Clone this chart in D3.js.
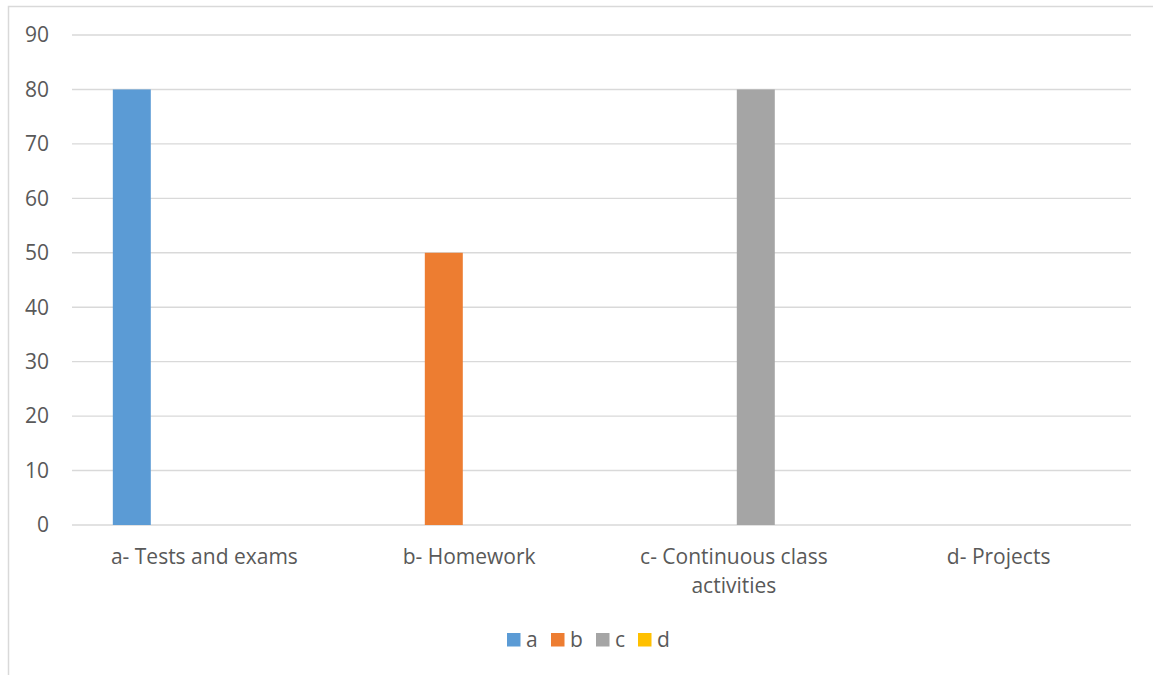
<!DOCTYPE html>
<html>
<head>
<meta charset="utf-8">
<script src="https://cdn.jsdelivr.net/npm/d3@7"></script>
<style>
  html, body { margin: 0; padding: 0; background: #fff; }
  svg { display: block; }
  text { font-family: "Open Sans", "Liberation Sans", sans-serif; fill: #595959; }
</style>
</head>
<body>
<svg id="chart" width="1153" height="675"></svg>
<script>
// Categories along the x axis
const categories = [
  "a- Tests and exams",
  "b- Homework",
  "c- Continuous class activities",
  "d- Projects"
];
// Series names (legend)
const seriesNames = ["a", "b", "c", "d"];
// Values per series, one per category (null = no entry)
const seriesA = [80, null, null, null];
const seriesB = [null, 50, null, null];
const seriesC = [null, null, 80, null];
const seriesD = [null, null, null, null];
const seriesColors = ["#5B9BD5", "#ED7D31", "#A5A5A5", "#FFC000"];
// Y axis ticks
const yTicks = [0, 10, 20, 30, 40, 50, 60, 70, 80, 90];

const seriesValues = [seriesA, seriesB, seriesC, seriesD];

const svg = d3.select("#chart");
const W = 1153, H = 675;
const plot = { left: 72, right: 1131, top: 35, bottom: 525 };
const fontSize = 21;

// Outer chart border (runs off the right and bottom edges)
svg.append("rect")
  .attr("x", 8.5).attr("y", 6.5)
  .attr("width", W + 20).attr("height", H + 20)
  .attr("fill", "none").attr("stroke", "#d9d9d9").attr("stroke-width", 1.5);

const y = d3.scaleLinear().domain([0, 90]).range([plot.bottom, plot.top]);
const x0 = d3.scaleBand().domain(categories).range([plot.left, plot.right])
  .paddingInner(0).paddingOuter(0);
const x1 = d3.scaleBand().domain(seriesNames).range([0, x0.bandwidth()])
  .paddingInner(0.196).paddingOuter(0.9).align(0.48);

// Horizontal gridlines
svg.append("g").selectAll("line")
  .data(yTicks)
  .join("line")
  .attr("x1", plot.left).attr("x2", plot.right)
  .attr("y1", d => y(d)).attr("y2", d => y(d))
  .attr("stroke", "#d9d9d9").attr("stroke-width", 1.4);

// Y tick labels
svg.append("g").selectAll("text")
  .data(yTicks)
  .join("text")
  .attr("x", 49).attr("y", d => y(d))
  .attr("dy", "0.35em")
  .attr("text-anchor", "end")
  .attr("font-size", fontSize)
  .text(d => d);

// Bars
const barData = [];
seriesValues.forEach((vals, si) => {
  vals.forEach((v, ci) => {
    if (v !== null) barData.push({ s: seriesNames[si], c: categories[ci], v, color: seriesColors[si] });
  });
});
svg.append("g").selectAll("rect")
  .data(barData)
  .join("rect")
  .attr("x", d => x0(d.c) + x1(d.s))
  .attr("width", x1.bandwidth())
  .attr("y", d => y(d.v))
  .attr("height", d => y(0) - y(d.v))
  .attr("fill", d => d.color);

// Category labels (wrapped to fit the band)
const catLabels = {
  "a- Tests and exams": ["a- Tests and exams"],
  "b- Homework": ["b- Homework"],
  "c- Continuous class activities": ["c- Continuous class", "activities"],
  "d- Projects": ["d- Projects"]
};
const catG = svg.append("g").selectAll("text")
  .data(categories)
  .join("text")
  .attr("x", d => x0(d) + x0.bandwidth() / 2)
  .attr("y", 557)
  .attr("text-anchor", "middle")
  .attr("font-size", fontSize);
catG.each(function(d) {
  const t = d3.select(this);
  catLabels[d].forEach((line, i) => {
    t.append("tspan")
      .attr("x", x0(d) + x0.bandwidth() / 2)
      .attr("dy", i === 0 ? "0.35em" : 29)
      .text(line);
  });
});

// Legend
const legendX = [507, 551, 596, 638];
const legend = svg.append("g").selectAll("g")
  .data(seriesNames)
  .join("g")
  .attr("transform", (d, i) => `translate(${legendX[i]},633)`);
legend.append("rect")
  .attr("width", 13.5).attr("height", 13.5)
  .attr("fill", (d, i) => seriesColors[i]);
legend.append("text")
  .attr("x", 19).attr("y", 7)
  .attr("dy", "0.35em")
  .attr("font-size", fontSize)
  .text(d => d);
</script>
</body>
</html>
